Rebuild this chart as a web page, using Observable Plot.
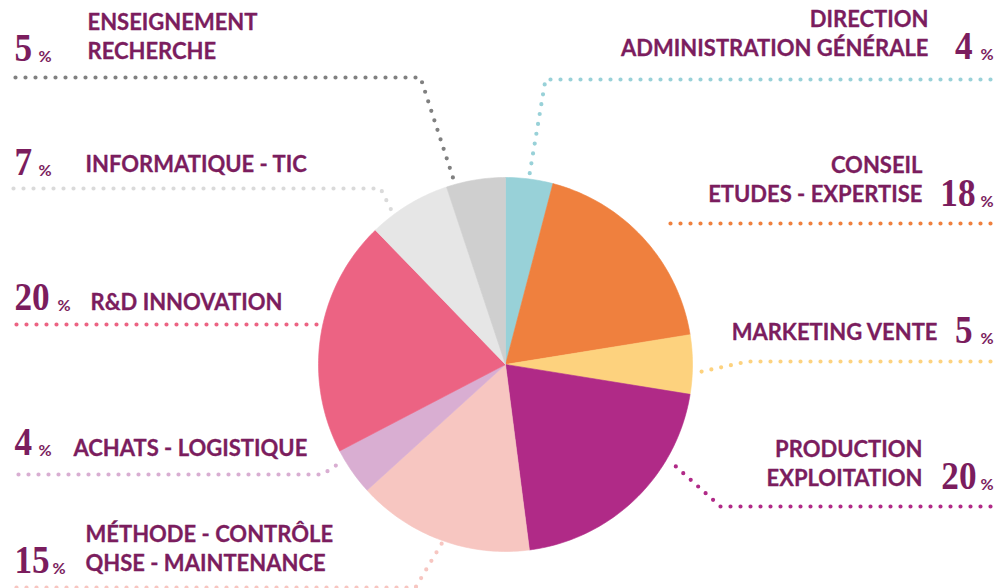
<!DOCTYPE html>
<html><head><meta charset="utf-8">
<script src="https://cdn.jsdelivr.net/npm/d3@7"></script>
<script src="https://cdn.jsdelivr.net/npm/@observablehq/plot@0.6"></script>
<style>
html,body{margin:0;padding:0;background:#fff;}
#chart{width:995px;height:588px;overflow:hidden;}
</style>
</head><body><div id="chart"></div>
<script>
// ---- data ----
const names = ["DIRECTION\nADMINISTRATION GÉNÉRALE","CONSEIL\nETUDES - EXPERTISE","MARKETING VENTE","PRODUCTION\nEXPLOITATION","MÉTHODE - CONTRÔLE\nQHSE - MAINTENANCE","ACHATS - LOGISTIQUE","R&D INNOVATION","INFORMATIQUE - TIC","ENSEIGNEMENT\nRECHERCHE"];
const values = [4, 18, 5, 20, 15, 4, 20, 7, 5];
const sliceColors = ["#98d1d8","#ef803e","#fdd27e","#b02a87","#f7c6c1","#d9aed2","#ec6383","#e6e6e6","#cfcfcf"];
const leaderColors = ["#98d1d8","#ef803e","#fdd27e","#b02a87","#f7c6c1","#d9aed2","#ec6383","#dadada","#808080"];

// ---- layout ----
const W = 995, H = 588;
const cx = 505, cy = 364, R = 187;
const side = ["right","right","right","right","left","left","left","left","left"];
const labelX = [928, 922, 937, 922, 85, 73, 90, 85, 87];
const labelBase = [28, 174, 341, 458, 543, 457, 311, 173, 31];
const numX = [972, 975, 972, 976, 14, 14, 14, 14, 14];
const numBase = [58, 205, 342, 488, 572, 454, 309, 174, 60];
const pctX = [993, 993, 993, 993, 52, 38, 57, 38, 38];
const pctBase = [59, 206, 343, 489, 573, 455, 310, 175, 61];
const leaders = [
  [[990,79],[545,79],[528,180]],
  [[990,223],[663,223]],
  [[990,361],[747,361],[697,372]],
  [[990,506],[720,506],[672,463]],
  [[16,587],[415,587],[446,535]],
  [[18,474],[322,474],[340,462]],
  [[16,324],[320,324]],
  [[13,188],[380,188],[392,212]],
  [[15,77],[420,77],[455,185]]
];
const textColor = "#7b1d5e";
const labelSize = 22, numSize = 41, pctSize = 16;

// ---- build ----
const arcs = d3.pie().sort(null).value(d => d)(values);
const slices = arcs.map((a, i) => {
  const pts = [{x: cx, y: cy}];
  const n = Math.max(4, Math.ceil((a.endAngle - a.startAngle) / (Math.PI / 180)));
  for (let k = 0; k <= n; k++) {
    const t = a.startAngle + (a.endAngle - a.startAngle) * k / n;
    pts.push({x: cx + R * Math.sin(t), y: cy - R * Math.cos(t)});
  }
  pts.push({x: cx, y: cy});
  return pts;
});

const rows = names.map((name, i) => ({
  name, value: values[i], side: side[i],
  lx: labelX[i], ly: labelBase[i] - 0.71 * labelSize - 6,
  nx: numX[i], ny: numBase[i],
  px: pctX[i], py: pctBase[i]
}));

const marks = [];
leaders.forEach((path, i) => {
  marks.push(Plot.line(path.map(([x, y]) => ({x, y})), {
    x: "x", y: "y", stroke: leaderColors[i], strokeWidth: 4.2,
    strokeDasharray: "0 10", strokeLinecap: "round", strokeLinejoin: "round"
  }));
});
slices.forEach((pts, i) => {
  marks.push(Plot.line(pts, {x: "x", y: "y", fill: sliceColors[i], stroke: sliceColors[i], strokeWidth: 0.6}));
});
for (const s of ["left","right"]) {
  const anchor = s === "left" ? "start" : "end";
  const data = rows.filter(d => d.side === s);
  marks.push(Plot.text(data, {x: "lx", y: "ly", text: "name", textAnchor: anchor, lineAnchor: "top",
    lineHeight: 29 / labelSize, fontSize: labelSize, fontWeight: "bold", fontFamily: "Lato", fill: textColor,
    stroke: textColor, strokeWidth: 0.3}));
  marks.push(Plot.text(data, {x: "nx", y: "ny", text: d => String(d.value), textAnchor: anchor, lineAnchor: "bottom",
    fontSize: numSize, fontWeight: "bold", fontFamily: "Liberation Serif", fill: textColor, className: "num"}));
  marks.push(Plot.text(data, {x: "px", y: "py", text: d => "%", textAnchor: anchor, lineAnchor: "bottom",
    fontSize: pctSize, fontWeight: "bold", fontFamily: "Lato", fill: textColor, className: "pct"}));
}

const svg = Plot.plot({
  width: W, height: H,
  marginTop: 0, marginRight: 0, marginBottom: 0, marginLeft: 0,
  x: {domain: [0, W], range: [0, W], axis: null},
  y: {domain: [0, H], range: [0, H], axis: null},
  style: {background: "#fff", overflow: "hidden"},
  marks
});
document.getElementById("chart").appendChild(svg);

// condense serif numbers horizontally
d3.select(svg).selectAll("g.num text").each(function() {
  const bb = this.getBBox();
  const anchorEnd = (this.getAttribute("text-anchor") || this.parentNode.getAttribute("text-anchor")) === "end";
  const ax = anchorEnd ? bb.x + bb.width : bb.x;
  const t = this.getAttribute("transform") || "";
  this.setAttribute("transform", t + ` translate(${ax},0) scale(0.86,1) translate(${-ax},0)`);
});
</script>
</body></html>
